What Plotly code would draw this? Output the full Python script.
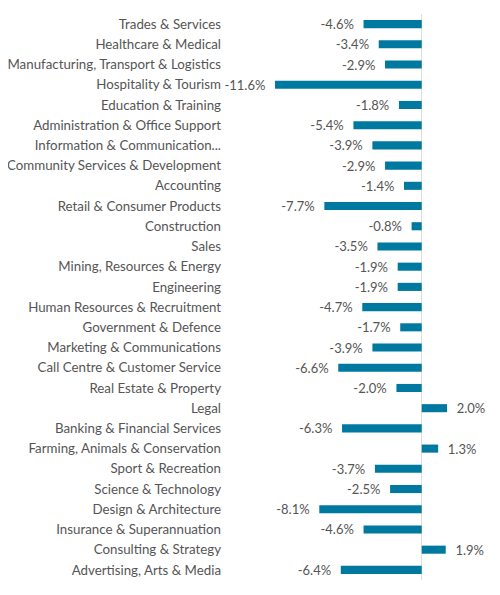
import plotly.graph_objects as go

categories = [
    "Trades & Services", "Healthcare & Medical", "Manufacturing, Transport & Logistics",
    "Hospitality & Tourism", "Education & Training", "Administration & Office Support",
    "Information & Communication...", "Community Services & Development", "Accounting",
    "Retail & Consumer Products", "Construction", "Sales", "Mining, Resources & Energy",
    "Engineering", "Human Resources & Recruitment", "Government & Defence",
    "Marketing & Communications", "Call Centre & Customer Service", "Real Estate & Property",
    "Legal", "Banking & Financial Services", "Farming, Animals & Conservation",
    "Sport & Recreation", "Science & Technology", "Design & Architecture",
    "Insurance & Superannuation", "Consulting & Strategy", "Advertising, Arts & Media",
]
values = [-4.6, -3.4, -2.9, -11.6, -1.8, -5.4, -3.9, -2.9, -1.4, -7.7, -0.8, -3.5, -1.9,
          -1.9, -4.7, -1.7, -3.9, -6.6, -2.0, 2.0, -6.3, 1.3, -3.7, -2.5, -8.1, -4.6, 1.9, -6.4]

nb = "\u00a0"
labels = [(f"{v:.1f}%" + nb * 2) if v < 0 else (nb * 2 + f"{v:.1f}%") for v in values]

fig = go.Figure(go.Bar(
    x=values, y=categories, orientation="h",
    marker=dict(color="#0079A1", line=dict(width=0)),
    width=0.4,
    text=labels, textposition="outside", constraintext="none",
    textfont=dict(size=13, color="#555555", family="Lato"),
    cliponaxis=False,
))
fig.update_layout(
    width=492, height=587,
    margin=dict(l=221, r=10, t=6, b=15),
    paper_bgcolor="white", plot_bgcolor="white",
    font=dict(family="Lato", size=13, color="#555555"),
    showlegend=False,
    uniformtext=dict(minsize=13, mode="show"),
    xaxis=dict(range=[-15.24, 5.4], showgrid=False, showticklabels=False, automargin=False,
               zeroline=True, zerolinecolor="#dddddd", zerolinewidth=1),
    yaxis=dict(autorange="reversed", showgrid=False, ticks="", ticklabelstandoff=7,
               automargin=False, zeroline=False,
               tickfont=dict(size=13.3, color="#555555", family="Lato")),
)
fig.write_html("out.html")
